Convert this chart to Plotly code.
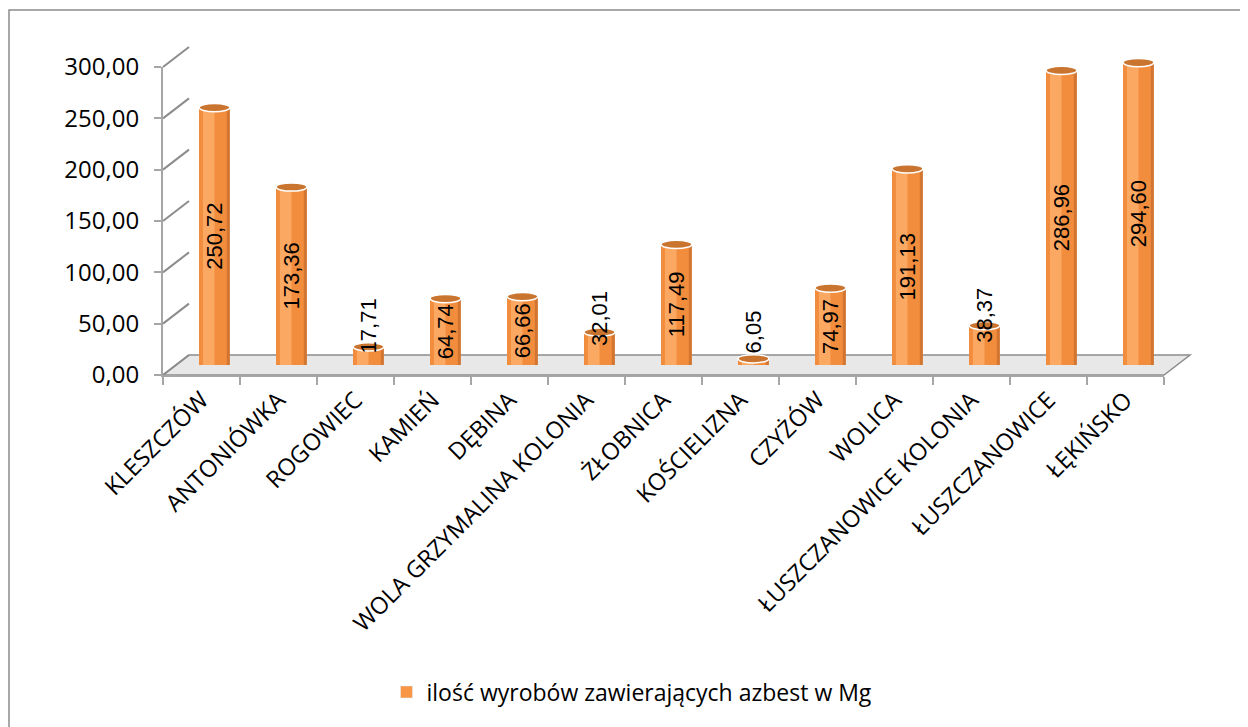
import plotly.graph_objects as go

categories = ["KLESZCZÓW", "ANTONIÓWKA", "ROGOWIEC", "KAMIEŃ", "DĘBINA",
              "WOLA GRZYMALINA KOLONIA", "ŻŁOBNICA", "KOŚCIELIZNA", "CZYŻÓW",
              "WOLICA", "ŁUSZCZANOWICE KOLONIA", "ŁUSZCZANOWICE", "ŁĘKIŃSKO"]
values = [250.72, 173.36, 17.71, 64.74, 66.66, 32.01, 117.49, 6.05, 74.97,
          191.13, 38.37, 286.96, 294.60]
series_name = "ilość wyrobów zawierających azbest w Mg"
y_ticks = [0, 50, 100, 150, 200, 250, 300]

W, H = 1248, 727
ORG = 8                                       # page offset of the figure
# pixel geometry of the pseudo-3D planes (screen pixels)
FX0, FX1, FY0, FYT = 163, 1164, 375, 67      # front plane
DX, DY = 26, -20                              # depth offset (back plane)
YMAX = 300
K = (FY0 - FYT) / YMAX                        # px per unit

def px(x):
    return (x - ORG) / W

def py(y):
    return 1 - (y - ORG) / H

def dom_x(off):
    return [px(FX0 + off), px(FX1 + off)]

def dom_y(off):
    return [py(FY0 + off), py(FYT + off)]

font_main = "Open Sans, Lato, sans-serif"
GRID = "#8C8C8C"

fig = go.Figure()

# invisible trace anchoring the front category axis
fig.add_trace(go.Scatter(x=categories, y=values, mode="lines",
                         line=dict(width=0), opacity=0, showlegend=False,
                         hoverinfo="skip", xaxis="x", yaxis="y"))

# cylinder bars (mid depth), built from layered bars for shading
layers = [
    dict(width=0.40, offset=-0.20, color="#D27530"),
    dict(width=0.36, offset=-0.20, color="#F28D3D"),
    dict(width=0.15, offset=-0.15, color="#FBA862"),
]
for L in layers:
    fig.add_trace(go.Bar(
        x=categories, y=values, xaxis="x2", yaxis="y2",
        width=[L["width"]] * len(values), offset=[L["offset"]] * len(values),
        marker=dict(color=L["color"], line=dict(width=0)),
        name=series_name, showlegend=False, hoverinfo="skip",
    ))
# legend entry
fig.add_trace(go.Bar(x=[categories[0]], y=[None], xaxis="x2", yaxis="y2",
                     marker=dict(color="#F79646"), name=series_name,
                     showlegend=True, hoverinfo="skip"))

# data labels as rotated annotations at mid depth
annotations = []
for c, v in zip(categories, values):
    fits = v * K >= 62
    annotations.append(dict(
        x=c, y=v / 2, xref="x2", yref="y2",
        text=f"{v:.2f}".replace(".", ","), textangle=-90, showarrow=False,
        xanchor="center", yanchor="middle", yshift=0 if fits else 30,
        font=dict(family="Liberation Sans, Arial", size=22, color="black"),
    ))

shapes = []
# chart border (only left/top visible)
shapes.append(dict(type="rect", xref="paper", yref="paper",
                   x0=px(9), x1=px(1270), y0=py(10), y1=py(760),
                   line=dict(color="#8C8C8C", width=1.5), layer="below"))
# floor
path = (f"M {px(FX0)},{py(FY0)} L {px(FX1)},{py(FY0)} "
        f"L {px(FX1+DX)},{py(FY0+DY)} L {px(FX0+DX)},{py(FY0+DY)} Z")
shapes.append(dict(type="path", path=path, xref="paper", yref="paper",
                   fillcolor="#E8E8E8", line=dict(color=GRID, width=1.5),
                   layer="below"))
# left wall diagonals
for v in y_ticks:
    yf = FY0 - v * K
    shapes.append(dict(type="line", xref="paper", yref="paper",
                       x0=px(FX0), y0=py(yf), x1=px(FX0 + DX), y1=py(yf + DY),
                       line=dict(color=GRID, width=2), layer="below"))
# cylinder ends (ellipses) on the mid-depth axes
for i, v in enumerate(values):
    shapes.append(dict(type="circle", xref="x2", yref="y2",
                       x0=i - 0.20, x1=i + 0.20, y0=-4, y1=4,
                       fillcolor="#E5843A", line=dict(color="#F4F4F4", width=1),
                       layer="below"))
    shapes.append(dict(type="circle", xref="x2", yref="y2",
                       x0=i - 0.20, x1=i + 0.20, y0=v - 4, y1=v + 4,
                       fillcolor="#C9742F", line=dict(color="#FFFFFF", width=1.5),
                       layer="above"))

fig.update_layout(
    width=W, height=H,
    margin=dict(l=0, r=0, t=0, b=0, autoexpand=False),
    paper_bgcolor="white", plot_bgcolor="rgba(0,0,0,0)",
    separators=", ",
    barmode="overlay",
    font=dict(family=font_main, color="black"),
    shapes=shapes,
    annotations=annotations,
    showlegend=True,
    legend=dict(orientation="h", x=px(632), xanchor="center", y=py(692),
                yanchor="middle", font=dict(size=23, family=font_main),
                bgcolor="rgba(0,0,0,0)"),
    xaxis=dict(domain=dom_x(0), anchor="y", type="category",
               categoryorder="array", categoryarray=categories,
               range=[-0.5, len(categories) - 0.5],
               showline=True, linecolor="#A6A6A6", linewidth=2,
               ticks="outside", tickson="boundaries", ticklen=8,
               tickcolor="#A6A6A6", tickwidth=2, tickangle=-45,
               tickfont=dict(size=23.5), showgrid=False, zeroline=False),
    yaxis=dict(domain=dom_y(0), anchor="x", range=[0, YMAX],
               tickvals=y_ticks, tickformat=".2f",
               showline=True, linecolor="#A6A6A6", linewidth=2,
               ticks="outside", ticklen=7, tickcolor="#A6A6A6", tickwidth=2,
               ticklabelstandoff=10,
               tickfont=dict(size=24), showgrid=False, zeroline=False),
    xaxis2=dict(domain=dom_x(DX / 2), anchor="y2", type="category",
                categoryorder="array", categoryarray=categories,
                range=[-0.5, len(categories) - 0.5], visible=False),
    yaxis2=dict(domain=dom_y(DY / 2), anchor="x2", range=[0, YMAX],
                visible=False),
    xaxis3=dict(domain=dom_x(DX), anchor="y3", type="category",
                categoryorder="array", categoryarray=categories,
                range=[-0.5, len(categories) - 0.5],
                showticklabels=False, showgrid=False, zeroline=False,
                showline=False, ticks=""),
    yaxis3=dict(domain=dom_y(DY), anchor="x3", range=[0, YMAX],
                tickvals=y_ticks, showticklabels=False, ticks="",
                showgrid=True, gridcolor=GRID, gridwidth=2,
                zeroline=False, showline=False),
)

fig.write_html("out.html")
